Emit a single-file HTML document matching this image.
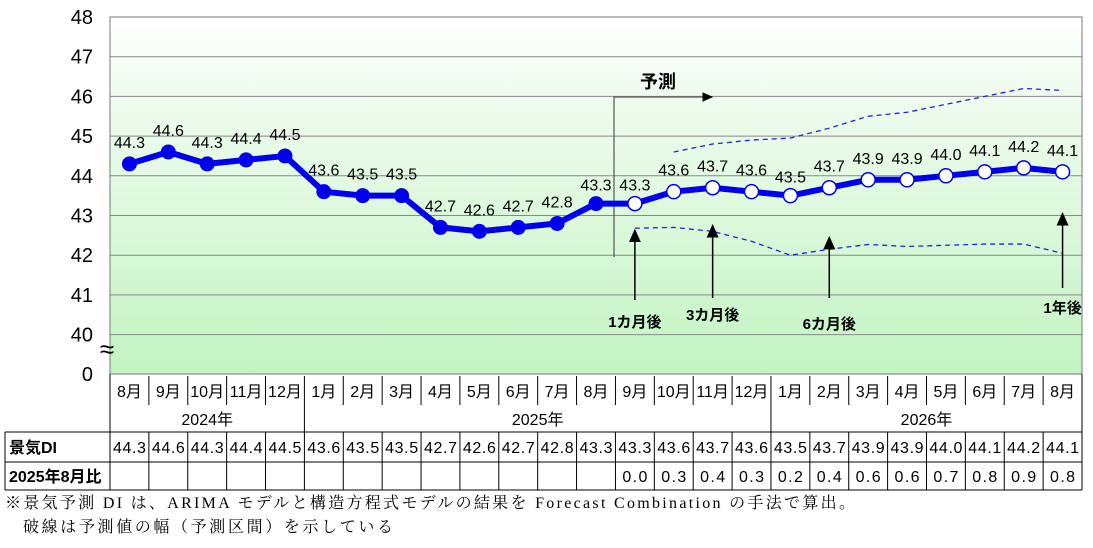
<!DOCTYPE html>
<html><head><meta charset="utf-8"><style>
body{margin:0;background:#fff;width:1093px;height:543px;overflow:hidden;font-family:"Liberation Sans","Noto Sans CJK JP",sans-serif}
</style></head><body>
<svg id="c" width="1093" height="543" xmlns="http://www.w3.org/2000/svg">
<defs><linearGradient id="g" x1="0" y1="0" x2="0" y2="1"><stop offset="0" stop-color="#ffffff"/><stop offset="0.15" stop-color="#f4fdf4"/><stop offset="1" stop-color="#c2f4c2"/></linearGradient>
<marker id="ah" markerWidth="10" markerHeight="10" refX="8" refY="5" orient="auto"><path d="M0,1 L9,5 L0,9 Z" fill="#000"/></marker></defs>
</svg>
<script>
const months=['8月','9月','10月','11月','12月','1月','2月','3月','4月','5月','6月','7月','8月','9月','10月','11月','12月','1月','2月','3月','4月','5月','6月','7月','8月'];
const diValues=[44.3,44.6,44.3,44.4,44.5,43.6,43.5,43.5,42.7,42.6,42.7,42.8,43.3,43.3,43.6,43.7,43.6,43.5,43.7,43.9,43.9,44.0,44.1,44.2,44.1];
const diffValues=[null,null,null,null,null,null,null,null,null,null,null,null,null,'0.0','0.3','0.4','0.3','0.2','0.4','0.6','0.6','0.7','0.8','0.9','0.8'];
const upperBand=[null,null,null,null,null,null,null,null,null,null,null,null,null,null,44.6,44.8,44.9,44.95,45.2,45.5,45.6,45.8,46.0,46.2,46.15];
const lowerBand=[null,null,null,null,null,null,null,null,null,null,null,null,null,42.68,42.7,42.6,42.35,42.0,42.15,42.27,42.22,42.25,42.28,42.28,42.05];
const yTicks=[48,47,46,45,44,43,42,41,40];
const years=[['2024年',0,5],['2025年',5,17],['2026年',17,25]];
const forecastStart=13;
const arrows=[[13,'1カ月後',42.68,300,322],[15,'3カ月後',42.8,298,315],[18,'6カ月後',42.5,298,324],[24,'1年後',43.1,288,308]];

const svg=document.getElementById('c');const NS='http://www.w3.org/2000/svg';
const L=110,R=1082,T=17,STEP=39.7,CW=(R-L)/months.length;
const x=i=>L+CW*(i+0.5);const y=v=>T+(48-v)*STEP;
function el(t,a,txt){const e=document.createElementNS(NS,t);for(const k in a)e.setAttribute(k,a[k]);if(txt!=null)e.textContent=txt;svg.appendChild(e);return e;}
let e;
e=el('rect',{x:L,y:T,width:R-L,height:374-T,fill:'url(#g)'});


yTicks.forEach(v=>{
 e=el('line',{x1:L,x2:R,y1:y(v),y2:y(v),stroke:'#888','stroke-width':1});
 
 
 e=el('text',{x:93,y:y(v)+7,'text-anchor':'end','font-size':20},v);
 
 
});
e=el('text',{x:93,y:381,'text-anchor':'end','font-size':20},'0');


e=el('rect',{x:L,y:T,width:R-L,height:374-T,fill:'none',stroke:'#777'});


e=el('text',{x:107,y:358,'text-anchor':'middle','font-size':26},'≈');


function band(arr,name){let d='';arr.forEach((v,i)=>{if(v==null)return;d+=(d?'L':'M')+x(i)+','+y(v);});
 e=el('path',{d:d,fill:'none',stroke:'#2222dd','stroke-width':1.3,'stroke-dasharray':'5,4'});
 
 }
band(upperBand,'upper-band');band(lowerBand,'lower-band');
e=el('polyline',{points:`614,257 614,97 712,97`,fill:'none',stroke:'#555','stroke-width':1.2,'marker-end':'url(#ah)'});


e=el('text',{x:658,y:88,'text-anchor':'middle','font-size':18,'font-weight':'bold'},'予測');


e=el('polyline',{points:diValues.map((v,i)=>x(i)+','+y(v)).join(' '),fill:'none',stroke:'#0000ee','stroke-width':6,'stroke-linejoin':'round'});


diValues.forEach((v,i)=>{
 const f=i>=forecastStart;
 e=el('circle',{cx:x(i),cy:y(v),r:f?7:7.5,fill:f?'#fff':'#0000ee',stroke:f?'#0000ee':'none','stroke-width':1.5});
 
 
 e=el('text',{x:x(i),y:y(v)-16-(i==12||i==13||i==17?-3:0),'text-anchor':'middle','font-size':16},v.toFixed(1));
 
 
});
arrows.forEach(a=>{
 e=el('line',{x1:x(a[0]),x2:x(a[0]),y1:a[3],y2:y(a[2])+2,stroke:'#000','stroke-width':1.5,'marker-end':'url(#ah)'});
 
 
 e=el('text',{x:x(a[0]),y:a[4]+5,'text-anchor':'middle','font-size':15,'font-weight':'bold'},a[1]);
 
 
});
const ln=(x1,y1,x2,y2,n)=>{e=el('line',{x1,y1,x2,y2,stroke:'#000','stroke-width':1});};
ln(L,374,L,490,'table-line');ln(R,374,R,490,'table-line');ln(5,432,5,490,'table-line');
ln(5,432,R,432,'table-line');ln(5,462,R,462,'table-line');ln(5,490,R,490,'table-line');
months.forEach((m,i)=>{
 const xl=L+CW*i;
 if(i>0){ln(xl,376,xl,405,'month-divider');ln(xl,432,xl,490,'cell-divider');}
 e=el('text',{x:x(i),y:397,'text-anchor':'middle','font-size':16},m);
 
 
 e=el('text',{x:x(i),y:453,'text-anchor':'middle','font-size':16,textLength:33,lengthAdjust:'spacing'},diValues[i].toFixed(1));
 
 
 if(diffValues[i]!=null){
 e=el('text',{x:x(i),y:482,'text-anchor':'middle','font-size':16,textLength:25,lengthAdjust:'spacing'},diffValues[i]);
 
 }
});
years.forEach(yv=>{
 if(yv[1]>0)ln(L+CW*yv[1],405,L+CW*yv[1],432,'year-divider');
 e=el('text',{x:L+CW*(yv[1]+yv[2])/2,y:425,'text-anchor':'middle','font-size':16},yv[0]);
 
 
});
e=el('text',{x:9,y:453,'font-size':16,'font-weight':'bold'},'景気DI');


e=el('text',{x:9,y:482,'font-size':16,'font-weight':'bold'},'2025年8月比');


e=el('text',{x:5,y:508,'font-size':16,textLength:850,lengthAdjust:'spacing','font-family':'"Liberation Serif","Noto Serif CJK SC",serif'},'※景気予測 DI は、ARIMA モデルと構造方程式モデルの結果を Forecast Combination の手法で算出。');


e=el('text',{x:23,y:532,'font-size':16,textLength:370,lengthAdjust:'spacing','font-family':'"Liberation Serif","Noto Serif CJK SC",serif'},'破線は予測値の幅（予測区間）を示している');


</script>
</body></html>
